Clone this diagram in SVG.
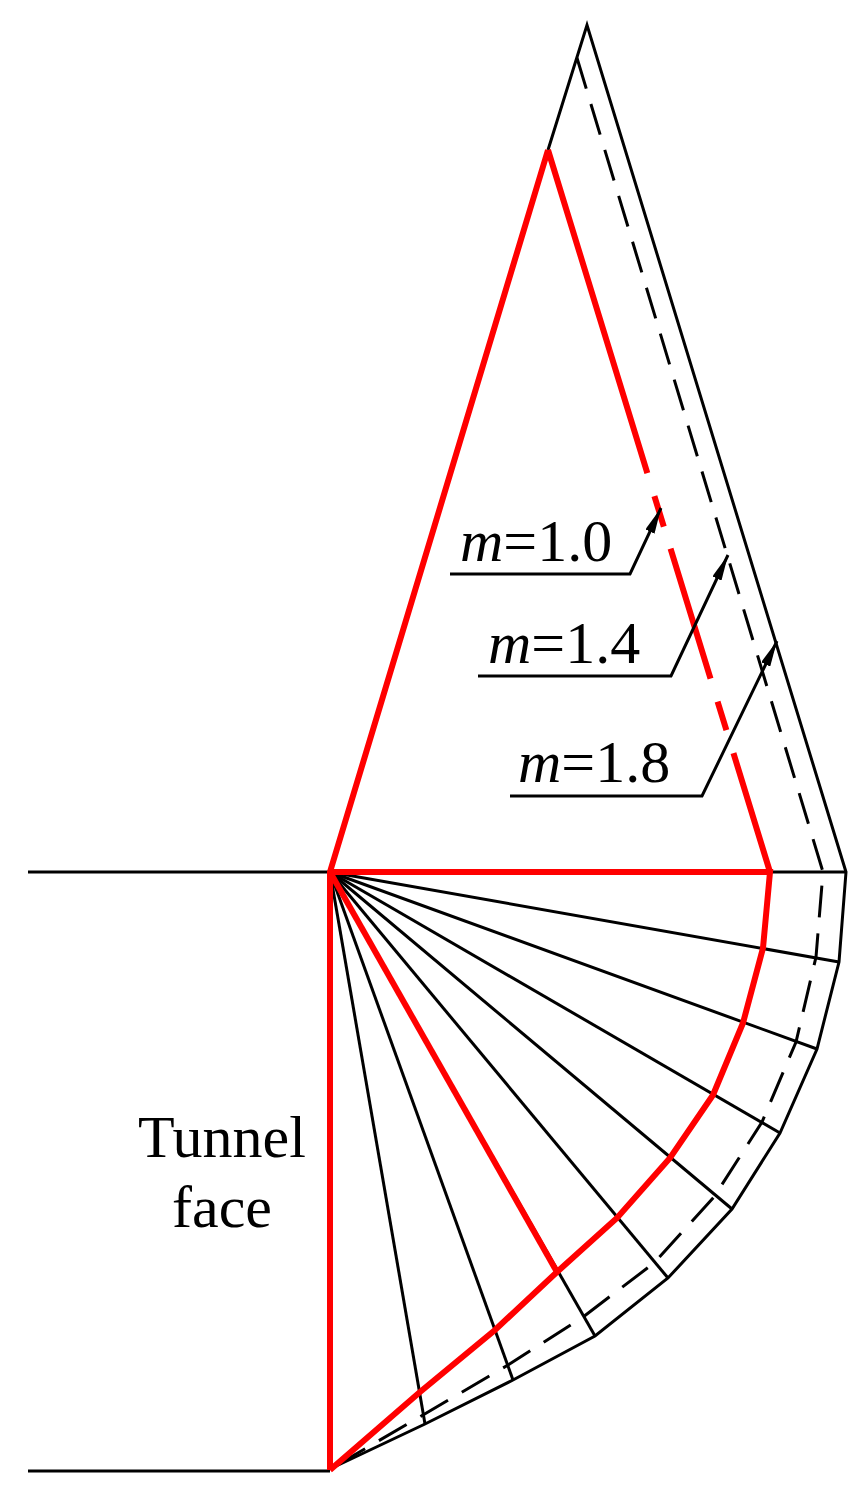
<svg xmlns="http://www.w3.org/2000/svg" width="867" height="1501" viewBox="0 0 867 1501">
<style>
.k{fill:none;stroke:#000;stroke-width:3;stroke-linejoin:miter}
.d{fill:none;stroke:#000;stroke-width:3;stroke-dasharray:32 16}
.r{fill:none;stroke:#f00;stroke-width:6;stroke-linejoin:miter}
.t{font-family:"Liberation Serif",serif;font-size:60px;fill:#000}
</style>
<defs>
<marker id="a" viewBox="0 0 10 10" refX="10" refY="5" markerWidth="26" markerHeight="10" markerUnits="userSpaceOnUse" orient="auto" preserveAspectRatio="none">
<path d="M0,0 L10,5 L0,10 Z" fill="#000"/>
</marker>
</defs>
<g id="connectors">
<line class="k" x1="28" y1="872" x2="846" y2="872"/>
<line class="k" x1="28" y1="1471" x2="330" y2="1471"/>
<path class="k" d="M548,150 L587,25 L846,872 L839,962 L817,1049 L780,1133 L732,1209 L668,1278 L595,1336 L513,1380 L425,1424 L332,1468"/>
<path class="d" d="M577,58 L823,872 L816,957 L796,1042 L762,1122 L714,1197 L654,1263 L583,1317 L508,1365 L423,1415 L332,1468"/>
<g class="k">
<line x1="330" y1="872" x2="839" y2="962"/>
<line x1="330" y1="872" x2="817" y2="1049"/>
<line x1="330" y1="872" x2="780" y2="1133"/>
<line x1="330" y1="872" x2="732" y2="1209"/>
<line x1="330" y1="872" x2="668" y2="1278"/>
<line x1="330" y1="872" x2="595" y2="1336"/>
<line x1="330" y1="872" x2="513" y2="1380"/>
<line x1="330" y1="872" x2="425" y2="1424"/>
</g>
<path class="r" d="M330,1470 L330,872 L548,150"/>
<path class="r" d="M548,150 L770,872" stroke-dasharray="338 24 32 23 136 24 30 24 300"/>
<path class="r" d="M330,872 L770,872 L763,948 L743,1023 L713,1095 L670,1158 L617,1218 L557,1272 L495,1330 L420,1392 L330,1470"/>
<line class="r" x1="330" y1="872" x2="557" y2="1272"/>
<path class="k" d="M450,574 L630,574 L661,508" marker-end="url(#a)"/>
<path class="k" d="M478,676 L671,676 L728,555" marker-end="url(#a)"/>
<path class="k" d="M510,796 L702,796 L777,641" marker-end="url(#a)"/>
</g>
<g id="labels">
<text class="t" x="460" y="561"><tspan font-style="italic">m</tspan>=1.0</text>
<text class="t" x="488" y="663"><tspan font-style="italic">m</tspan>=1.4</text>
<text class="t" x="518" y="782"><tspan font-style="italic">m</tspan>=1.8</text>
<text class="t" x="222" y="1157" text-anchor="middle">Tunnel</text>
<text class="t" x="222" y="1227" text-anchor="middle">face</text>
</g>
</svg>
